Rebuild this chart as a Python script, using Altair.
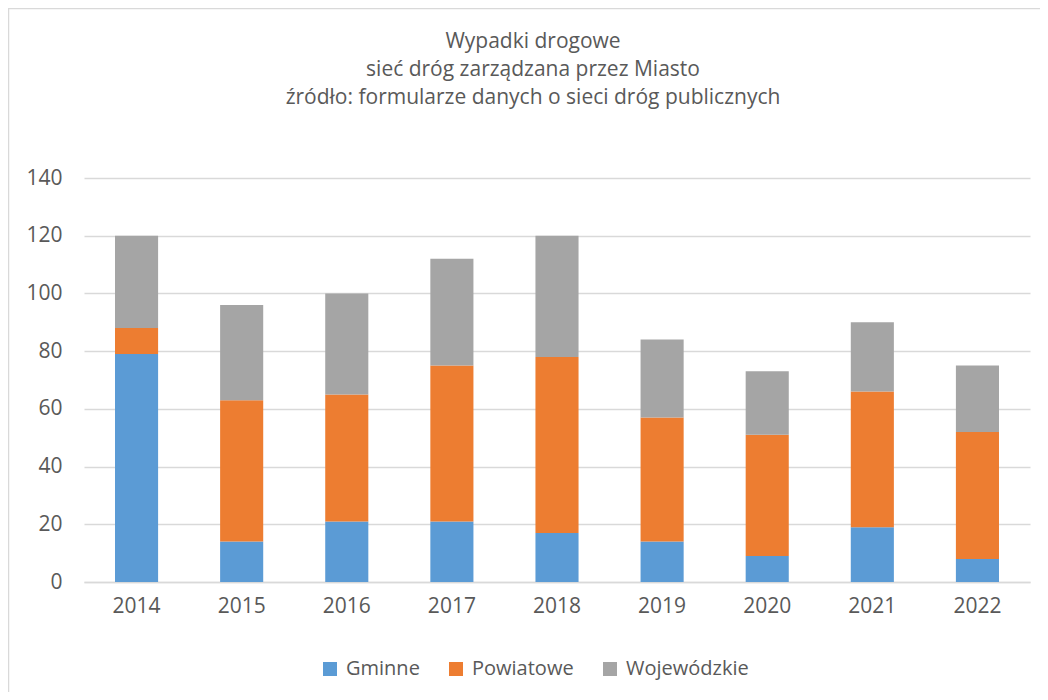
import altair as alt
import pandas as pd

years = ["2014", "2015", "2016", "2017", "2018", "2019", "2020", "2021", "2022"]
series = ["Gminne", "Powiatowe", "Wojewódzkie"]
gminne = [79, 14, 21, 21, 17, 14, 9, 19, 8]
powiatowe = [9, 49, 44, 54, 61, 43, 42, 47, 44]
wojewodzkie = [32, 33, 35, 37, 42, 27, 22, 24, 23]
colors = ["#5B9BD5", "#ED7D31", "#A5A5A5"]
title_lines = [
    "Wypadki drogowe",
    "sieć dróg zarządzana przez Miasto",
    "źródło: formularze danych o sieci dróg publicznych",
]

rows = []
for i, y in enumerate(years):
    for k, (name, vals) in enumerate(zip(series, [gminne, powiatowe, wojewodzkie])):
        rows.append({"rok": y, "typ": name, "wartosc": vals[i], "kol": k})
df = pd.DataFrame(rows)

FONT = "Open Sans"
TXT = "#595959"

bars = alt.Chart(df).mark_bar().encode(
    x=alt.X("rok:N", sort=years, title=None,
            scale=alt.Scale(paddingInner=0.59, paddingOuter=0.295),
            axis=alt.Axis(labelAngle=0, labelFontSize=21, labelColor=TXT, labelFont=FONT,
                          ticks=False, domain=True, domainColor="#D9D9D9", domainWidth=1.5,
                          labelPadding=13)),
    y=alt.Y("wartosc:Q", stack="zero", title=None,
            scale=alt.Scale(domain=[0, 140]),
            axis=alt.Axis(values=[0, 20, 40, 60, 80, 100, 120, 140], labelFontSize=21,
                          labelColor=TXT, labelFont=FONT, ticks=False, domain=False,
                          gridColor="#D9D9D9", gridWidth=1.5, labelPadding=22)),
    color=alt.Color("typ:N", scale=alt.Scale(domain=series, range=colors),
                    legend=alt.Legend(title=None, orient="none", direction="horizontal",
                                      legendX=236, legendY=481, symbolType="square",
                                      symbolSize=196, symbolStrokeWidth=0, labelFontSize=20,
                                      labelColor=TXT, labelFont=FONT, columnPadding=26,
                                      labelOffset=6)),
    order=alt.Order("kol:Q"),
)

frame = alt.Data(values=[{"a": 1}])
top_line = alt.Chart(frame).mark_rule(color="#D9D9D9", strokeWidth=1.5).encode(
    x=alt.value(-76), x2=alt.value(960), y=alt.value(-169.5))
left_line = alt.Chart(frame).mark_rule(color="#D9D9D9", strokeWidth=1.5).encode(
    x=alt.value(-75.5), y=alt.value(-170), y2=alt.value(530))

title_data = alt.Data(values=[{"t": "\n".join(title_lines)}])
title = alt.Chart(title_data).mark_text(
    font=FONT, fontSize=21, color=TXT, align="center", baseline="top",
    lineBreak="\n", lineHeight=28,
).encode(text="t:N", x=alt.value(449), y=alt.value(-147))

chart = alt.layer(top_line, left_line, title, bars).properties(
    width=946, height=404,
    autosize=alt.AutoSizeParams(type="none"),
    padding={"left": 76, "top": 170, "right": 10, "bottom": 110},
).configure_view(stroke=None)

chart.save("out.html", embed_options={"renderer": "svg", "actions": False})
